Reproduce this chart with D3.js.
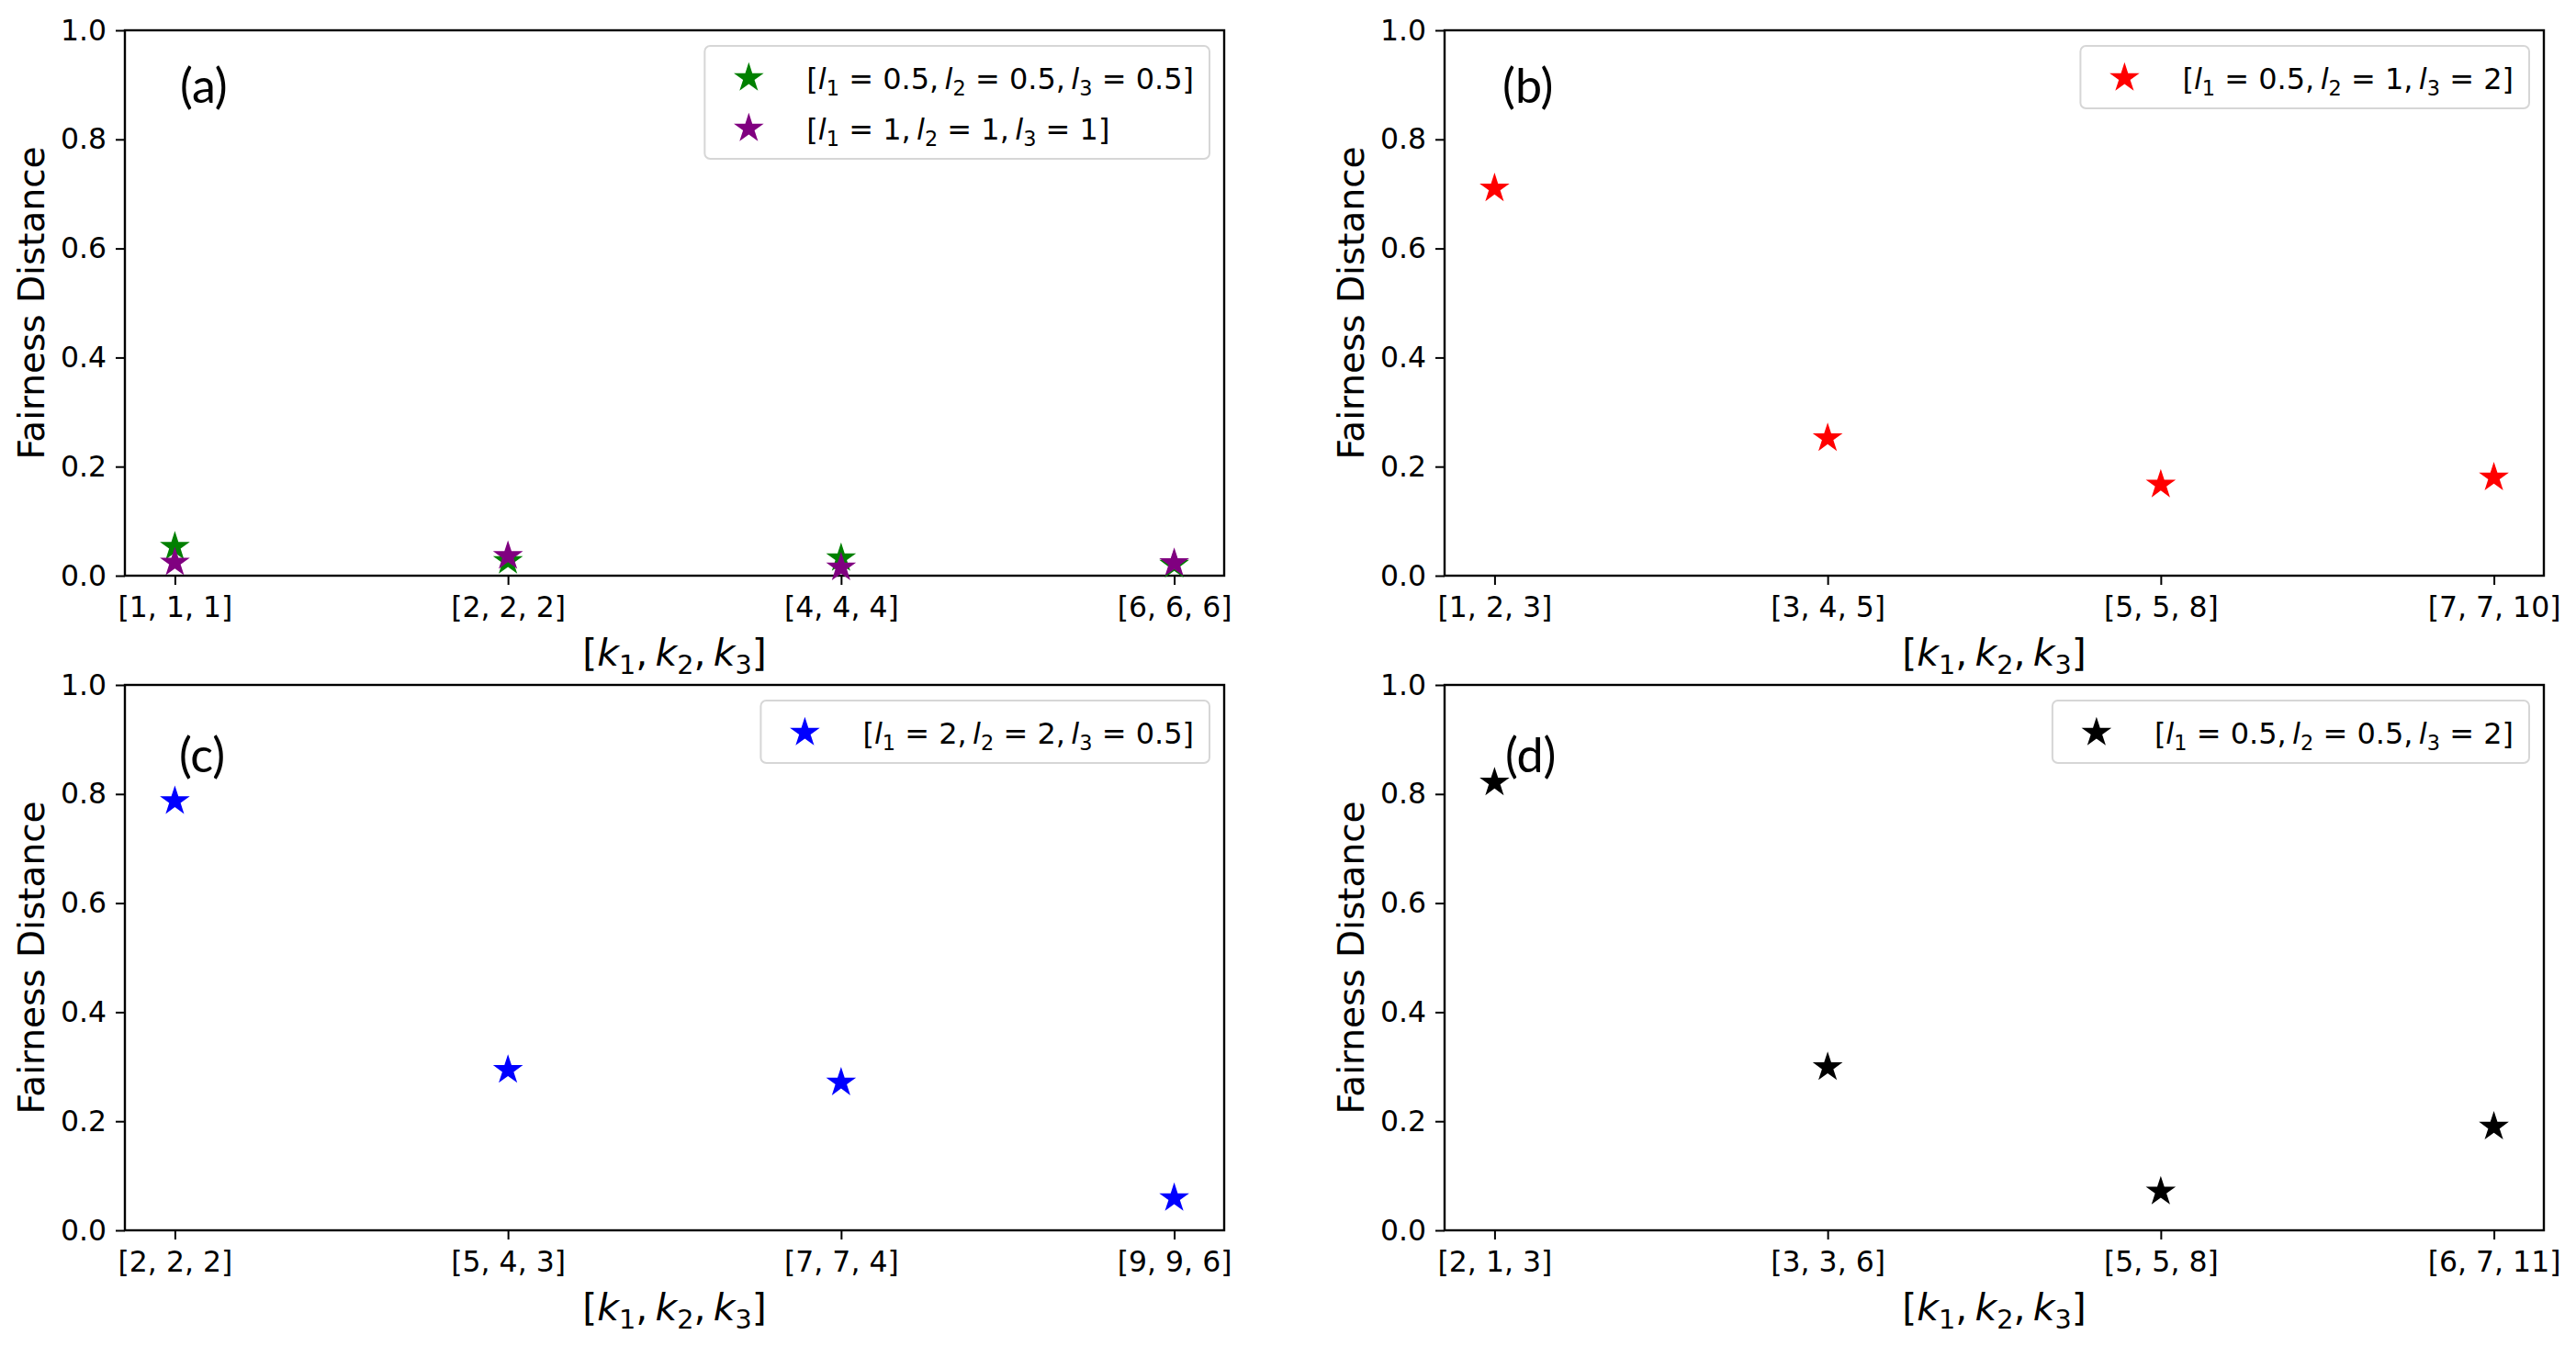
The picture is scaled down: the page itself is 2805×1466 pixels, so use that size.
<!DOCTYPE html>
<html>
<head>
<meta charset="utf-8">
<script src="https://cdn.jsdelivr.net/npm/d3@7"></script>
<style>
  html, body { margin: 0; padding: 0; background: #fff; }
  svg text { white-space: pre; }
</style>
</head>
<body>
<div id="viz"></div>
<script>
const WIDTH = 2805;
const HEIGHT = 1466;

// ---- data ----
const Y_TICKS = [0, 0.2, 0.4, 0.6, 0.8, 1.0];
const Y_DOMAIN = [0, 1];

const categoriesA = ["[1, 1, 1]", "[2, 2, 2]", "[4, 4, 4]", "[6, 6, 6]"];
const categoriesB = ["[1, 2, 3]", "[3, 4, 5]", "[5, 5, 8]", "[7, 7, 10]"];
const categoriesC = ["[2, 2, 2]", "[5, 4, 3]", "[7, 7, 4]", "[9, 9, 6]"];
const categoriesD = ["[2, 1, 3]", "[3, 3, 6]", "[5, 5, 8]", "[6, 7, 11]"];

const seriesA1 = [0.053, 0.027, 0.032, 0.020];  // l = 0.5, 0.5, 0.5
const seriesA2 = [0.024, 0.036, 0.015, 0.023];  // l = 1, 1, 1
const seriesB = [0.710, 0.252, 0.167, 0.180];
const seriesC = [0.787, 0.294, 0.271, 0.059];
const seriesD = [0.821, 0.299, 0.071, 0.190];

const paramsA1 = ["0.5", "0.5", "0.5"];
const paramsA2 = ["1", "1", "1"];
const paramsB = ["0.5", "1", "2"];
const paramsC = ["2", "2", "0.5"];
const paramsD = ["0.5", "0.5", "2"];

const PANEL_TAGS = ["(a)", "(b)", "(c)", "(d)"];

// ---- layout ----
const TICK_FONT = 31.5;
const LABEL_FONT = 40;
const LEGEND_FONT = 32;
const STAR_AREA = 330;

const panels = [
  { tag: PANEL_TAGS[0], left: 136, right: 1333, top: 33, bottom: 627, tagX: 60, tagY: 79,
    cats: categoriesA,
    series: [{ values: seriesA1, color: "green", params: paramsA1 },
             { values: seriesA2, color: "purple", params: paramsA2 }] },
  { tag: PANEL_TAGS[1], left: 1573, right: 2770, top: 33, bottom: 627, tagX: 63, tagY: 79,
    cats: categoriesB,
    series: [{ values: seriesB, color: "red", params: paramsB }] },
  { tag: PANEL_TAGS[2], left: 136, right: 1333, top: 746, bottom: 1340, tagX: 59, tagY: 95,
    cats: categoriesC,
    series: [{ values: seriesC, color: "blue", params: paramsC }] },
  { tag: PANEL_TAGS[3], left: 1573, right: 2770, top: 746, bottom: 1340, tagX: 66, tagY: 95,
    cats: categoriesD,
    series: [{ values: seriesD, color: "black", params: paramsD }] }
];

const svg = d3.select("#viz").append("svg")
  .attr("width", WIDTH)
  .attr("height", HEIGHT)
  .style("font-family", "'DejaVu Sans', sans-serif");

svg.append("rect").attr("width", WIDTH).attr("height", HEIGHT).attr("fill", "#fff");

const star = d3.symbol().type(d3.symbolStar).size(STAR_AREA);

// writes mathtext-like runs: n = upright, i = italic, s = subscript
function mathText(textSel, parts, fontSize) {
  let shifted = false;
  parts.forEach(([str, kind]) => {
    const t = textSel.append("tspan").text(str);
    if (kind === "s") {
      t.attr("font-size", fontSize * 0.7).attr("dy", fontSize * 0.22);
      shifted = true;
    } else {
      if (shifted) { t.attr("dy", -fontSize * 0.22); shifted = false; }
      if (kind === "i") t.attr("font-style", "italic");
    }
  });
}

function paramParts(p) {
  return [
    ["[", "n"], ["l", "i"], ["1", "s"], [" = " + p[0] + ",\u2009", "n"],
    ["l", "i"], ["2", "s"], [" = " + p[1] + ",\u2009", "n"],
    ["l", "i"], ["3", "s"], [" = " + p[2] + "]", "n"]
  ];
}

const K_PARTS = [["[", "n"], ["k", "i"], ["1", "s"], [",\u2009", "n"], ["k", "i"], ["2", "s"],
                 [",\u2009", "n"], ["k", "i"], ["3", "s"], ["]", "n"]];

panels.forEach(p => {
  const g = svg.append("g");

  const x = d3.scalePoint().domain(p.cats).range([p.left, p.right]).padding(0.15);
  const y = d3.scaleLinear().domain(Y_DOMAIN).range([p.bottom, p.top]);

  // axes
  const xAxis = g.append("g")
    .attr("transform", `translate(0,${p.bottom})`)
    .call(d3.axisBottom(x).tickSize(10).tickSizeOuter(0).tickPadding(13));
  const yAxis = g.append("g")
    .attr("transform", `translate(${p.left},0)`)
    .call(d3.axisLeft(y).tickValues(Y_TICKS).tickFormat(d3.format(".1f"))
      .tickSize(10).tickSizeOuter(0).tickPadding(10));

  [xAxis, yAxis].forEach(a => {
    a.attr("font-size", TICK_FONT).attr("font-family", "'DejaVu Sans', sans-serif");
    a.select(".domain").remove();
    a.selectAll(".tick line").attr("stroke", "#000").attr("stroke-width", 2);
    a.selectAll(".tick text").attr("fill", "#000");
  });

  // frame
  g.append("rect")
    .attr("x", p.left).attr("y", p.top)
    .attr("width", p.right - p.left).attr("height", p.bottom - p.top)
    .attr("fill", "none").attr("stroke", "#000").attr("stroke-width", 2.4);

  // points
  p.series.forEach(s => {
    g.append("g").selectAll("path")
      .data(s.values)
      .join("path")
      .attr("d", star)
      .attr("transform", (v, i) => `translate(${x(p.cats[i])},${y(v)})`)
      .attr("fill", s.color);
  });

  // axis labels
  const xl = g.append("text")
    .attr("x", (p.left + p.right) / 2)
    .attr("y", p.bottom + 98)
    .attr("text-anchor", "middle")
    .attr("font-size", LABEL_FONT + 1)
    .attr("fill", "#000");
  mathText(xl, K_PARTS, LABEL_FONT + 1);

  g.append("text")
    .attr("transform", `translate(${p.left - 88},${(p.top + p.bottom) / 2}) rotate(-90)`)
    .attr("text-anchor", "middle")
    .attr("font-size", LABEL_FONT - 1)
    .attr("fill", "#000")
    .text("Fairness Distance");

  // panel tag
  g.append("text")
    .attr("x", p.left + p.tagX)
    .attr("y", p.top + p.tagY)
    .attr("font-family", "Lato, 'Open Sans', sans-serif")
    .attr("font-size", 52)
    .attr("fill", "#000")
    .text(p.tag);

  // legend
  const rowH = 55;
  const leg = g.append("g");
  const box = leg.append("rect");
  let textW = 0;
  const boxTop = p.top + 17;
  const rows = p.series.map((s, i) => {
    const t = leg.append("text")
      .attr("font-size", LEGEND_FONT)
      .attr("fill", "#000")
      .attr("y", boxTop + 35 + i * rowH + LEGEND_FONT * 0.36);
    mathText(t, paramParts(s.params), LEGEND_FONT);
    textW = Math.max(textW, t.node().getComputedTextLength());
    return t;
  });
  const boxW = 111 + textW + 17;
  const boxLeft = p.right - 16 - boxW;
  box.attr("x", boxLeft).attr("y", boxTop)
    .attr("width", boxW).attr("height", 68 + rowH * (p.series.length - 1))
    .attr("rx", 6)
    .attr("fill", "#fff").attr("fill-opacity", 0.8)
    .attr("stroke", "#d6d6d6").attr("stroke-width", 2);
  rows.forEach((t, i) => {
    t.attr("x", boxLeft + 111);
    leg.append("path")
      .attr("d", star)
      .attr("transform", `translate(${boxLeft + 48},${boxTop + 35 + i * rowH})`)
      .attr("fill", p.series[i].color);
  });
});
</script>
</body>
</html>
